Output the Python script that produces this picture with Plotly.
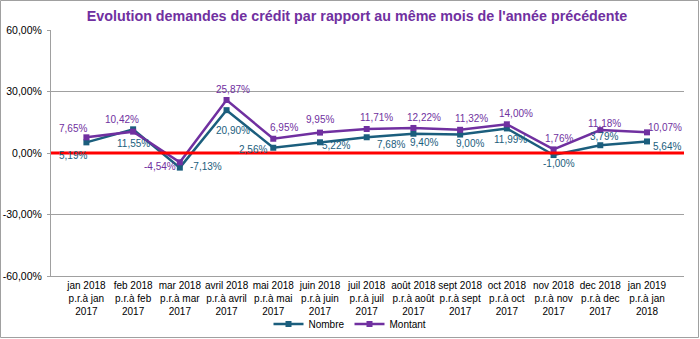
import plotly.graph_objects as go

# Category labels (three lines each)
categories = [
    "jan 2018<br>p.r.à jan<br>2017",
    "feb 2018<br>p.r.à feb<br>2017",
    "mar 2018<br>p.r.à mar<br>2017",
    "avril 2018<br>p.r.à avril<br>2017",
    "mai 2018<br>p.r.à mai<br>2017",
    "juin 2018<br>p.r.à juin<br>2017",
    "juil 2018<br>p.r.à juil<br>2017",
    "août 2018<br>p.r.à août<br>2017",
    "sept 2018<br>p.r.à sept<br>2017",
    "oct 2018<br>p.r.à oct<br>2017",
    "nov 2018<br>p.r.à nov<br>2017",
    "dec 2018<br>p.r.à dec<br>2017",
    "jan 2019<br>p.r.à jan<br>2018",
]

# Year-over-year change, in percent
nombre = [5.19, 11.55, -7.13, 20.90, 2.56, 5.22, 7.68, 9.40, 9.00, 11.99, -1.00, 3.79, 5.64]
montant = [7.65, 10.42, -4.54, 25.87, 6.95, 9.95, 11.71, 12.22, 11.32, 14.00, 1.76, 11.18, 10.07]

# Y axis ticks
tick_vals = [-60, -30, 0, 30, 60]
tick_text = ["-60,00%", "-30,00%", "0,00%", "30,00%", "60,00%"]

# Label offsets in pixels (dx, dy; dy positive = downwards)
nombre_offsets = [(-13, 13), (0, 14), (26, -1), (6, 20), (-20, 2), (16, 3), (24, 7),
                  (11, 9), (10, 9), (4, 11), (5, 8), (4, -9), (20, 5)]
montant_offsets = [(-13, -9), (-11, -12), (-20, 4), (6, -10), (11, -11), (0, -13), (10, -11),
                   (11, -10), (11, -11), (9, -11), (5, -11), (4, -7), (18, -5)]

C_NOMBRE = "#1B5E7D"
C_MONTANT = "#7030A0"
FONT = "Liberation Sans, Arial, sans-serif"


def pct(v):
    return f"{v:.2f}%".replace(".", ",")


fig = go.Figure()
fig.add_trace(go.Scatter(
    x=categories, y=nombre, name="Nombre", mode="lines+markers",
    line=dict(color=C_NOMBRE, width=2.5),
    marker=dict(symbol="square", size=6, color=C_NOMBRE),
))
fig.add_trace(go.Scatter(
    x=categories, y=montant, name="Montant", mode="lines+markers",
    line=dict(color=C_MONTANT, width=2.5),
    marker=dict(symbol="square", size=6, color=C_MONTANT),
))

annotations = []
for series, offs, col in ((nombre, nombre_offsets, C_NOMBRE), (montant, montant_offsets, C_MONTANT)):
    for cat, v, (dx, dy) in zip(categories, series, offs):
        annotations.append(dict(
            x=cat, y=v, xref="x", yref="y", text=pct(v), showarrow=False,
            xshift=dx, yshift=-dy,
            font=dict(family=FONT, size=10, color=col),
        ))

W, H = 700, 339
L, R, T, B = 51, 16, 30, 63
pw, ph = W - L - R, H - T - B

shapes = [
    # zero reference line
    dict(type="line", xref="paper", yref="y", x0=0, x1=1, y0=0, y1=0,
         line=dict(color="#FF0000", width=3)),
    # outer chart border
    dict(type="rect", xref="paper", yref="paper",
         x0=(0.5 - L) / pw, x1=(W - 1.5 - L) / pw,
         y0=(H - B - (H - 1.5)) / ph, y1=(H - B - 0.5) / ph,
         line=dict(color="#A0A0A0", width=1), fillcolor="rgba(0,0,0,0)"),
]

fig.update_layout(
    width=W, height=H,
    margin=dict(l=L, r=R, t=T, b=B, autoexpand=False),
    paper_bgcolor="white", plot_bgcolor="white",
    font=dict(family=FONT, size=10, color="#000000"),
    title=dict(
        text="<b>Evolution demandes de crédit par rapport au même mois de l'année précédente</b>",
        x=0.51, xanchor="center", y=1 - 16 / H, yanchor="middle",
        font=dict(family=FONT, size=14.3, color=C_MONTANT),
    ),
    showlegend=True,
    legend=dict(orientation="h", x=0.5, xanchor="center", xref="container",
                y=15 / H, yanchor="middle", yref="container",
                font=dict(family=FONT, size=10), itemwidth=30,
                bgcolor="rgba(0,0,0,0)"),
    annotations=annotations,
    shapes=shapes,
)
fig.update_xaxes(
    type="category", showgrid=False, showline=True, linecolor="#A0A0A0", linewidth=1,
    ticks="", tickangle=0, automargin=False,
    tickfont=dict(family=FONT, size=10), fixedrange=True,
)
fig.update_yaxes(
    range=[-60, 60], tickvals=tick_vals, ticktext=tick_text, automargin=False,
    showgrid=True, gridcolor="#A0A0A0", gridwidth=1, zeroline=False,
    showline=True, linecolor="#A0A0A0", linewidth=1,
    ticks="outside", ticklen=3, tickcolor="#A0A0A0", ticklabelstandoff=3,
    tickfont=dict(family=FONT, size=10.5),
)

fig.write_html("out.html")
